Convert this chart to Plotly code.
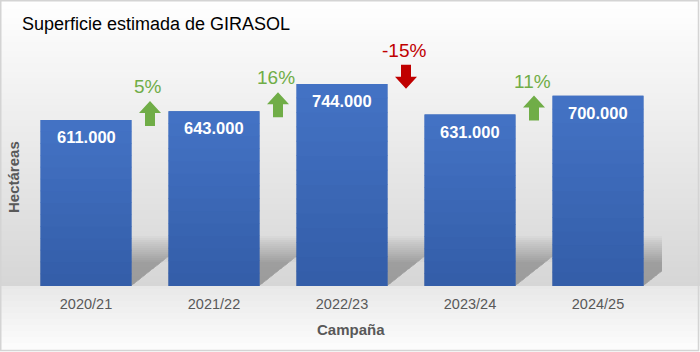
import plotly.graph_objects as go

# ---- data ----
categories = ["2020/21", "2021/22", "2022/23", "2023/24", "2024/25"]
values = [611000, 643000, 744000, 631000, 700000]
chart_title = "Superficie estimada de GIRASOL"
x_title = "Campaña"
y_title = "Hectáreas"

# ---- layout constants (pixels) ----
W, H = 700, 352
PL, PR = 22, 662
PT, PB = 41.5, 286
YMAX = 900000
BAR_W = 0.71
FONT = "Liberation Sans, Arial, sans-serif"


def ppy(p):
    return 1 - p / H


def ppx(p):
    return p / W


def lerp(a, b, t):
    return a + (b - a) * t


def grey_at(y):
    # vertical background gradient (pixel y -> grey level)
    if y < PB:
        stops = [(0, 255), (40, 249), (150, 233), (PB, 214)]
    else:
        stops = [(PB, 232), (352, 254)]
    for (y0, g0), (y1, g1) in zip(stops[:-1], stops[1:]):
        if y0 <= y <= y1:
            return lerp(g0, g1, (y - y0) / (y1 - y0))
    return stops[-1][1]


shapes = []
# background strips
step = 3
y = 0
while y < H:
    y2 = min(y + step, H)
    if y < PB < y2:
        y2 = PB
    g = int(round(grey_at((y + y2) / 2)))
    shapes.append(dict(type="rect", xref="paper", yref="paper", x0=0, x1=1,
                       y0=ppy(y2 + 0.3), y1=ppy(y), fillcolor=f"rgb({g},{g},{g})",
                       line=dict(width=0), layer="below"))
    y = y2

# perspective shadows behind bars
px_per_cat = (PR - PL) / len(categories)
px_per_val = (PB - PT) / YMAX
s_cat = 38 / px_per_cat
hs = 30 / px_per_val
for i in range(len(values)):
    xl, xr = i - BAR_W / 2, i + BAR_W / 2
    for htop_px in range(50, 22, -2):
        ht = htop_px / px_per_val
        path = (f"M {xl},0 L {xr},0 L {xr + s_cat},{hs} L {xr + s_cat},{ht} "
                f"L {xl},{ht} Z")
        shapes.append(dict(type="path", xref="x", yref="y", path=path,
                           fillcolor="rgba(0,0,0,0.02)", line=dict(width=0),
                           layer="below"))

# bar gradient overlay
N = 14
top_c = (68, 115, 197)
bot_c = (51, 93, 168)
for i, v in enumerate(values):
    for k in range(N):
        t = (k + 0.5) / N
        c = tuple(int(round(lerp(bot_c[j], top_c[j], t))) for j in range(3))
        shapes.append(dict(type="rect", xref="x", yref="y",
                           x0=i - BAR_W / 2, x1=i + BAR_W / 2,
                           y0=v * k / N, y1=min(v, v * (k + 1) / N + v * 0.004),
                           fillcolor=f"rgb{c}", line=dict(width=0), layer="above"))

# change arrows
for i in range(1, len(values)):
    prev, cur = values[i - 1], values[i]
    top = prev + 70000
    if cur >= prev:
        path = "M 0,0 L 11,-12 L 5,-12 L 5,-25 L -5,-25 L -5,-12 L -11,-12 Z"
        col = "#70AD47"
    else:
        path = "M -5,0 L 5,0 L 5,-12 L 11,-12 L 0,-24 L -11,-12 L -5,-12 Z"
        col = "#C00000"
    shapes.append(dict(type="path", xref="x", yref="y", xsizemode="pixel",
                       ysizemode="pixel", xanchor=i - 0.5, yanchor=top, path=path,
                       fillcolor=col, line=dict(width=0), layer="above"))

# frame
shapes.append(dict(type="rect", xref="paper", yref="paper", x0=ppx(0.75), x1=ppx(W - 1.5),
                   y0=ppy(H - 1.5), y1=ppy(0.75), line=dict(color="#d4d4d4", width=1.5),
                   fillcolor="rgba(0,0,0,0)", layer="above"))

annotations = []
# title
annotations.append(dict(text=chart_title, xref="paper", yref="paper", x=ppx(20), y=ppy(24),
                        xanchor="left", yanchor="middle", showarrow=False,
                        font=dict(family=FONT, size=18, color="#000000")))
# axis titles
annotations.append(dict(text=f"<b>{x_title}</b>", xref="paper", yref="paper", x=ppx(351),
                        y=ppy(329), xanchor="center", yanchor="middle", showarrow=False,
                        font=dict(family=FONT, size=15, color="#595959")))
annotations.append(dict(text=f"<b>{y_title}</b>", xref="paper", yref="paper", x=ppx(13),
                        y=ppy(177), xanchor="center", yanchor="middle", showarrow=False,
                        textangle=-90, font=dict(family=FONT, size=15, color="#595959")))
# value labels
for i, v in enumerate(values):
    annotations.append(dict(text=f"<b>{v:,}</b>".replace(",", "."), x=i, y=v, xref="x", yref="y",
                            xanchor="center", yanchor="top", yshift=-6, showarrow=False,
                            font=dict(family=FONT, size=16.5, color="#ffffff")))
# percent labels
for i in range(1, len(values)):
    prev, cur = values[i - 1], values[i]
    pct = round((cur - prev) / prev * 100)
    col = "#70AD47" if cur >= prev else "#C00000"
    annotations.append(dict(text=f"{pct}%", x=i - 0.5, y=prev + 70000, xref="x", yref="y",
                            xanchor="center", yanchor="bottom", yshift=2, xshift=-2,
                            showarrow=False, font=dict(family=FONT, size=19, color=col)))

fig = go.Figure(go.Bar(x=list(range(len(categories))), y=values, width=BAR_W,
                       marker=dict(color="#3c68b6", line=dict(width=0)),
                       hoverinfo="skip"))

fig.update_layout(
    width=W, height=H, margin=dict(l=0, r=0, t=0, b=0),
    paper_bgcolor="#ffffff", plot_bgcolor="rgba(0,0,0,0)",
    showlegend=False, shapes=shapes, annotations=annotations,
    xaxis=dict(domain=[ppx(PL), ppx(PR)], range=[-0.5, len(categories) - 0.5],
               tickvals=list(range(len(categories))), ticktext=categories,
               tickfont=dict(family=FONT, size=14.5, color="#595959"),
               showgrid=False, zeroline=False, showline=False,
               ticks="outside", ticklen=5, tickcolor="rgba(0,0,0,0)", fixedrange=True),
    yaxis=dict(domain=[ppy(PB), ppy(PT)], range=[0, YMAX], showgrid=False,
               zeroline=False, showline=False, showticklabels=False, fixedrange=True),
)

fig.write_html("out.html")
